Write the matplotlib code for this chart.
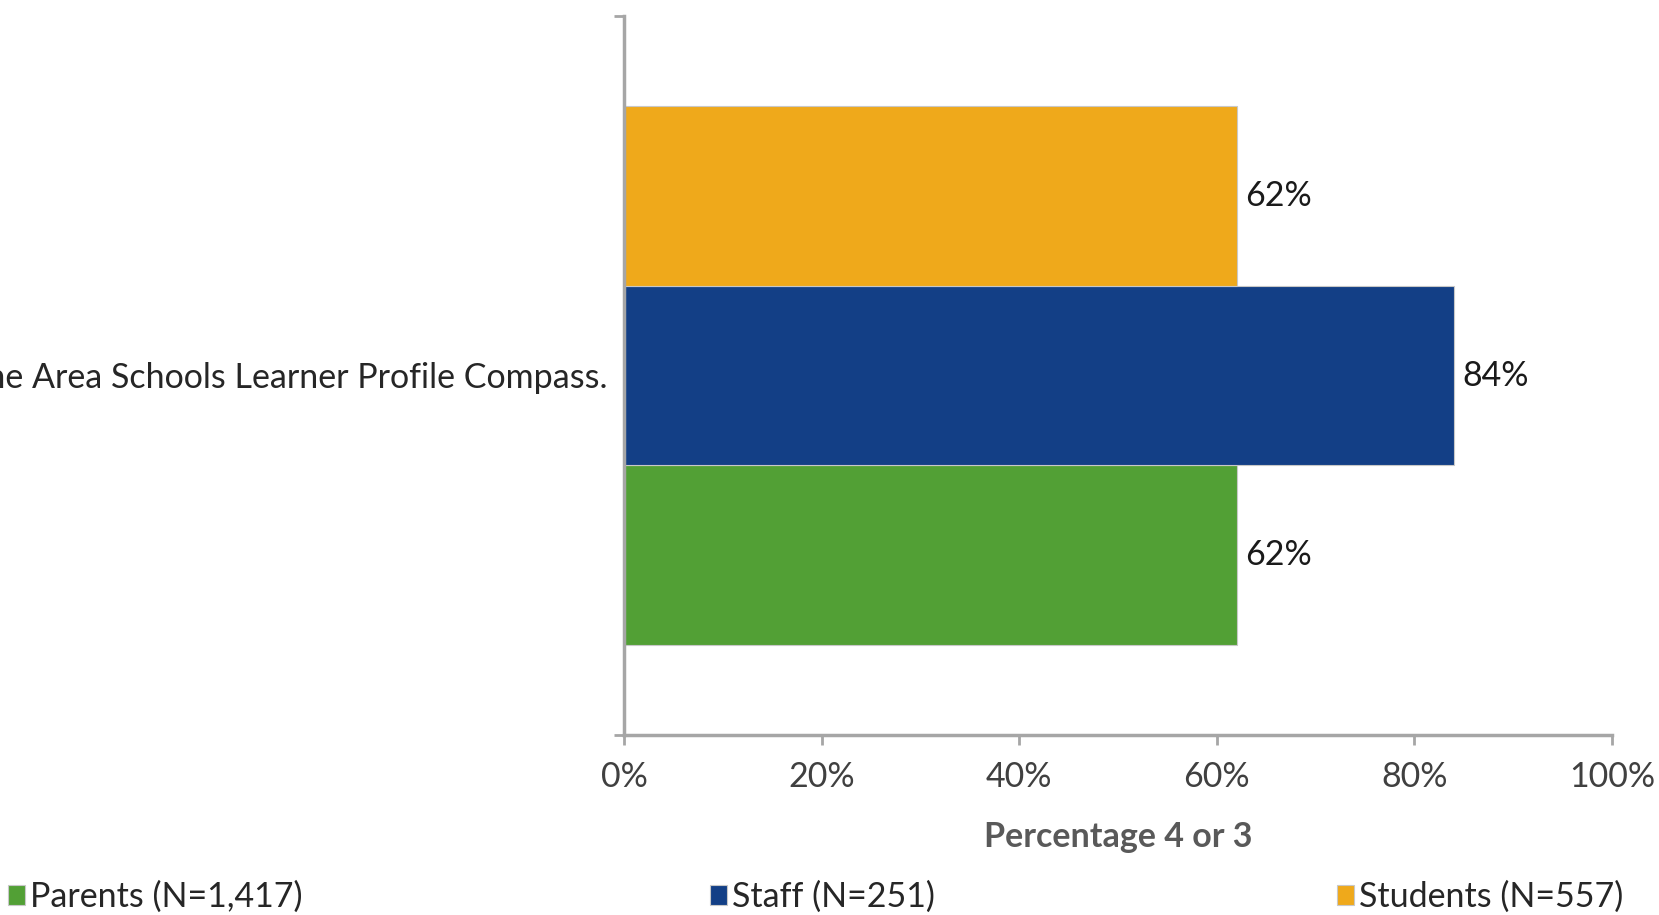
import matplotlib.pyplot as plt

# data
category = "I am familiar with the Area Schools Learner Profile Compass."
groups = ["Parents (N=1,417)", "Staff (N=251)", "Students (N=557)"]
values = [62, 84, 62]
colors = ["#52A035", "#133F86", "#EFA91B"]
xticks = [0, 20, 40, 60, 80, 100]
xlabel = "Percentage 4 or 3"

plt.rcParams["font.family"] = ["Lato", "DejaVu Sans"]
FS = 24.5

fig = plt.figure(figsize=(16.59, 9.15), dpi=100)
ax = fig.add_axes([624 / 1659, 1 - 735 / 915, (1612 - 624) / 1659, (735 - 16) / 915])

bar_h = 0.75 / len(groups)
bars = []
for i, (g, v, c) in enumerate(zip(groups, values, colors)):
    y = -0.375 + bar_h * (i + 0.5)
    b = ax.barh(y, v, height=bar_h, color=c, edgecolor="#C8C8C8", linewidth=0.8, label=g)
    bars.append(b)
    ax.text(v + 0.9, y, f"{v}%", va="center", ha="left", fontsize=FS,
            color="#1A1A1A")

ax.set_xlim(0, 100)
ax.set_ylim(-0.5, 0.5)
ax.set_xticks(xticks)
ax.set_xticklabels([f"{t}%" for t in xticks], fontsize=FS, color="#404040")
ax.tick_params(axis="x", length=7, width=2, color="#A6A6A6", pad=12)

ax.set_yticks([-0.5, 0.5])
ax.set_yticklabels([])
ax.tick_params(axis="y", which="major", length=7, width=2, color="#A6A6A6")
ax.set_yticks([0], minor=True)
ax.set_yticklabels([category], minor=True, fontsize=FS, color="#262626")
ax.tick_params(axis="y", which="minor", length=0, pad=12)

for s in ["top", "right"]:
    ax.spines[s].set_visible(False)
for s in ["left", "bottom"]:
    ax.spines[s].set_color("#A6A6A6")
    ax.spines[s].set_linewidth(2.5)

ax.set_xlabel(xlabel, fontsize=FS, fontweight="bold", color="#595959", labelpad=20)

legend_x = [8, 710, 1337]
for b, g, lx in zip(bars, groups, legend_x):
    fig.legend([b], [g], loc="center left", bbox_to_anchor=(lx / 1659, 1 - 897 / 915),
               frameon=False, fontsize=FS, labelcolor="#262626",
               handlelength=0.5, handleheight=0.5, handletextpad=0.15,
               borderaxespad=0, borderpad=0)

fig.savefig("out.png", dpi=100)
